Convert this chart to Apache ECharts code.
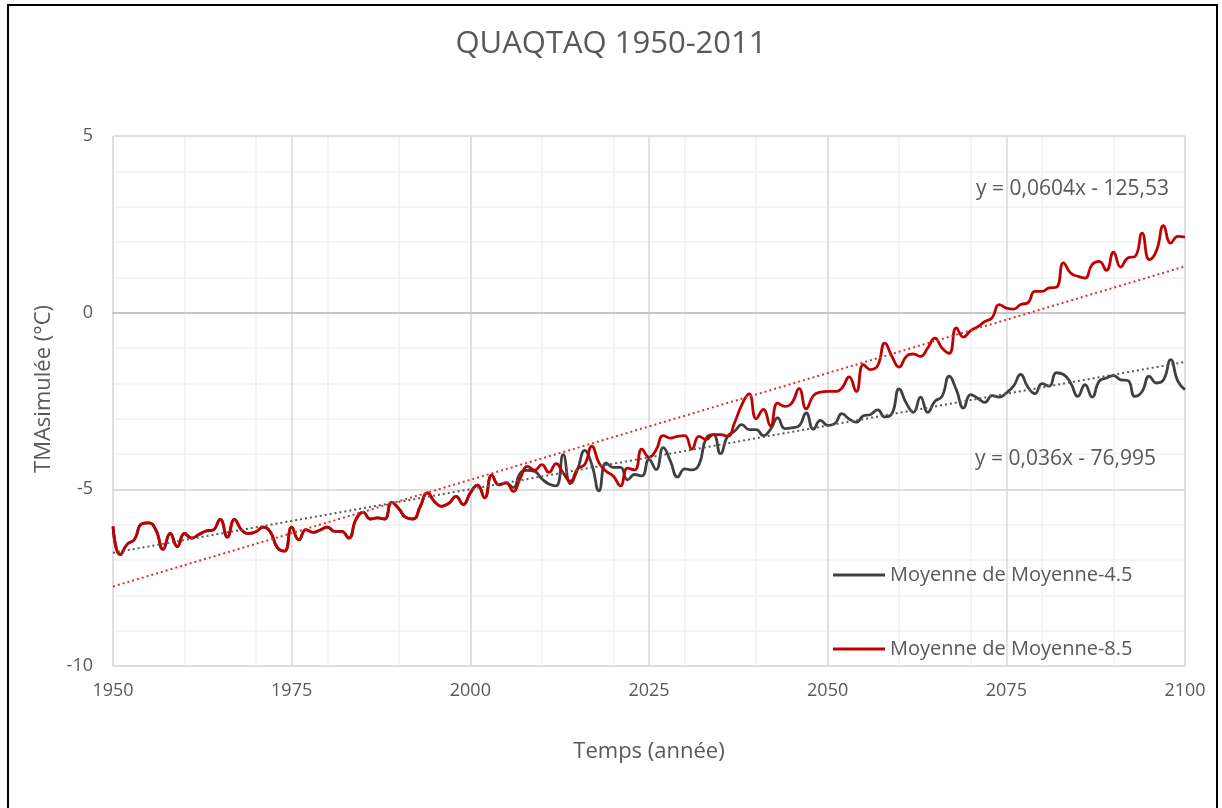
<!DOCTYPE html>
<html>
<head>
<meta charset="utf-8">
<script src="https://cdn.jsdelivr.net/npm/echarts@6/dist/echarts.min.js"></script>
<style>
  html, body { margin: 0; padding: 0; background: #fff; }
  #chart { width: 1222px; height: 808px; }
</style>
</head>
<body>
<div id="chart"></div>
<script>
// values, one per year
const startYear = 1950;
const endYear = 2100;

// 1950-2005: both scenarios share the same curve
const common = [
  -6.05, -6.85, -6.55, -6.42, -5.98, -5.95, -6.15, -6.70, -6.25, -6.62,
  -6.25, -6.38, -6.28, -6.18, -6.15, -5.85, -6.35, -5.85, -6.15, -6.25,
  -6.20, -6.07, -6.20, -6.65, -6.75, -6.07, -6.43, -6.14, -6.22, -6.15,
  -6.07, -6.19, -6.19, -6.38, -5.85, -5.65, -5.84, -5.81, -5.84, -5.37,
  -5.55, -5.80, -5.84, -5.48, -5.10, -5.35, -5.48, -5.39, -5.20, -5.43,
  -5.10, -4.88, -5.24, -4.60, -4.87, -4.82
];

// 2006-2100
const rest45 = [
  -4.95, -4.54, -4.46, -4.49, -4.70, -4.85, -4.90, -4.02, -4.84, -4.44,
  -3.90, -4.30, -5.04, -4.25, -4.38, -4.38, -4.73, -4.58, -4.62, -4.15,
  -4.44, -3.82, -4.20, -4.65, -4.42, -4.45, -4.30, -3.55, -3.45, -3.99,
  -3.50, -3.35, -3.17, -3.31, -3.31, -3.48, -3.30, -2.98, -3.28, -3.26,
  -3.20, -2.84, -3.30, -3.05, -3.19, -3.14, -2.86, -3.01, -3.10, -2.92,
  -2.88, -2.75, -2.95, -2.86, -2.16, -2.56, -2.82, -2.39, -2.82, -2.51,
  -2.37, -1.80, -2.18, -2.70, -2.32, -2.42, -2.54, -2.35, -2.39, -2.27,
  -2.08, -1.75, -2.10, -2.29, -2.01, -2.08, -1.70, -1.75, -1.99, -2.37,
  -2.04, -2.39, -1.94, -1.85, -1.78, -1.90, -1.92, -2.37, -2.23, -1.80,
  -1.99, -1.90, -1.33, -1.94, -2.18
];

const rest85 = [
  -5.06, -4.68, -4.35, -4.46, -4.30, -4.52, -4.27, -4.54, -4.77, -4.42,
  -4.30, -3.78, -4.25, -4.49, -4.62, -4.90, -4.40, -4.45, -3.86, -4.09,
  -3.88, -3.48, -3.55, -3.50, -3.48, -3.86, -3.50, -3.59, -3.45, -3.45,
  -3.50, -3.10, -2.60, -2.30, -3.00, -2.74, -3.20, -2.56, -2.65, -2.55,
  -2.15, -2.72, -2.35, -2.25, -2.23, -2.23, -2.13, -1.82, -2.23, -1.47,
  -1.61, -1.50, -0.86, -1.24, -1.54, -1.24, -1.17, -1.24, -1.00, -0.72,
  -1.00, -1.15, -0.43, -0.69, -0.51, -0.40, -0.25, -0.15, 0.23, 0.13,
  0.10, 0.23, 0.28, 0.60, 0.60, 0.70, 0.72, 1.41, 1.12, 1.03,
  0.98, 1.36, 1.45, 1.20, 1.71, 1.29, 1.55, 1.59, 2.25, 1.50,
  1.75, 2.46, 1.97, 2.16, 2.14
];

const series45 = common.concat(rest45);
const series85 = common.concat(rest85);

// trend lines as printed on the chart: [slope, intercept]
const trend45 = [0.036, -76.995];
const trend85 = [0.0604, -125.53];
const trendLabel45 = "y = 0,036x - 76,995";
const trendLabel85 = "y = 0,0604x - 125,53";

const name45 = "Moyenne de Moyenne-4.5";
const name85 = "Moyenne de Moyenne-8.5";

const toPairs = (arr) => arr.map((v, i) => [startYear + i, v]);
const trendPairs = (t) => [startYear, endYear].map((x) => [x, t[0] * x + t[1]]);

const font = "'Open Sans', 'Liberation Sans', sans-serif";
const textColor = "#595959";

const chart = echarts.init(document.getElementById("chart"), null, { renderer: "canvas" });

chart.setOption({
  animation: false,
  backgroundColor: "#fff",
  textStyle: { fontFamily: font },
  title: {
    text: "QUAQTAQ 1950-2011",
    left: "center",
    top: 24,
    textStyle: { fontFamily: font, fontSize: 31, fontWeight: "normal", color: textColor },
  },
  grid: { left: 113, right: 37, top: 136, bottom: 142, containLabel: false },
  xAxis: [
    {
      type: "value",
      min: startYear,
      max: endYear,
      interval: 25,
      z: 1,
      name: "Temps (année)",
      nameLocation: "middle",
      nameGap: 75,
      nameTextStyle: { fontFamily: font, fontSize: 22, color: textColor },
      axisLine: { show: true, lineStyle: { color: "#bfbfbf", width: 1.5 } },
      axisTick: { show: false },
      axisLabel: {
        fontFamily: font, fontSize: 18, color: textColor, margin: 16,
        formatter: (v) => String(v),
      },
      splitLine: { show: true, lineStyle: { color: "#d9d9d9", width: 1.5 } },
    },
    {
      type: "value",
      min: startYear,
      max: endYear,
      interval: 10,
      z: 0,
      axisLine: { show: false },
      axisTick: { show: false },
      axisLabel: { show: false },
      splitLine: { show: true, lineStyle: { color: "#f0f0f0", width: 1.5 } },
    },
  ],
  yAxis: [
    {
      type: "value",
      min: -10,
      max: 5,
      interval: 5,
      z: 1,
      name: "TMAsimulée (°C)",
      nameLocation: "middle",
      nameGap: 58,
      nameTextStyle: { fontFamily: font, fontSize: 22, color: textColor, padding: [0, 0, 0, 24] },
      axisLine: { show: false },
      axisTick: { show: false },
      axisLabel: { fontFamily: font, fontSize: 18, color: textColor, margin: 20 },
      splitLine: { show: true, lineStyle: { color: "#d9d9d9", width: 1.5 } },
    },
    {
      type: "value",
      min: -10,
      max: 5,
      interval: 1,
      z: 0,
      axisLine: { show: false },
      axisTick: { show: false },
      axisLabel: { show: false },
      splitLine: { show: true, lineStyle: { color: "#f0f0f0", width: 1.5 } },
    },
  ],
  legend: {
    data: [name45, name85],
    orient: "vertical",
    left: 833,
    top: 565,
    padding: 0,
    itemGap: 54,
    itemWidth: 52,
    itemHeight: 3,
    icon: "rect",
    textStyle: { fontFamily: font, fontSize: 20, color: textColor },
  },
  series: [
    {
      name: name45,
      type: "line",
      data: toPairs(series45),
      smooth: 0.5,
      symbol: "none",
      lineStyle: { width: 2.8, color: "#404040" },
      itemStyle: { color: "#404040" },
    },
    {
      name: name85,
      type: "line",
      data: toPairs(series85),
      smooth: 0.5,
      symbol: "none",
      lineStyle: { width: 2.8, color: "#c00000" },
      itemStyle: { color: "#c00000" },
    },
    {
      name: "trend45",
      type: "line",
      data: trendPairs(trend45),
      symbol: "none",
      silent: true,
      lineStyle: { width: 2, color: "#595959", type: [2, 3] },
    },
    {
      name: "trend85",
      type: "line",
      data: trendPairs(trend85),
      symbol: "none",
      silent: true,
      lineStyle: { width: 2, color: "#e0302a", type: [2, 3] },
    },
  ],
  graphic: [
    {
      type: "rect",
      shape: { x: 8, y: 5, width: 1209, height: 820 },
      style: { fill: "none", stroke: "#000", lineWidth: 2 },
      silent: true,
    },
    {
      type: "text",
      left: 976,
      top: 179,
      z: 10,
      style: { text: trendLabel85, font: "21px " + font, fill: textColor },
    },
    {
      type: "text",
      left: 975,
      top: 449,
      z: 10,
      style: { text: trendLabel45, font: "21px " + font, fill: textColor },
    },
  ],
});
</script>
</body>
</html>
